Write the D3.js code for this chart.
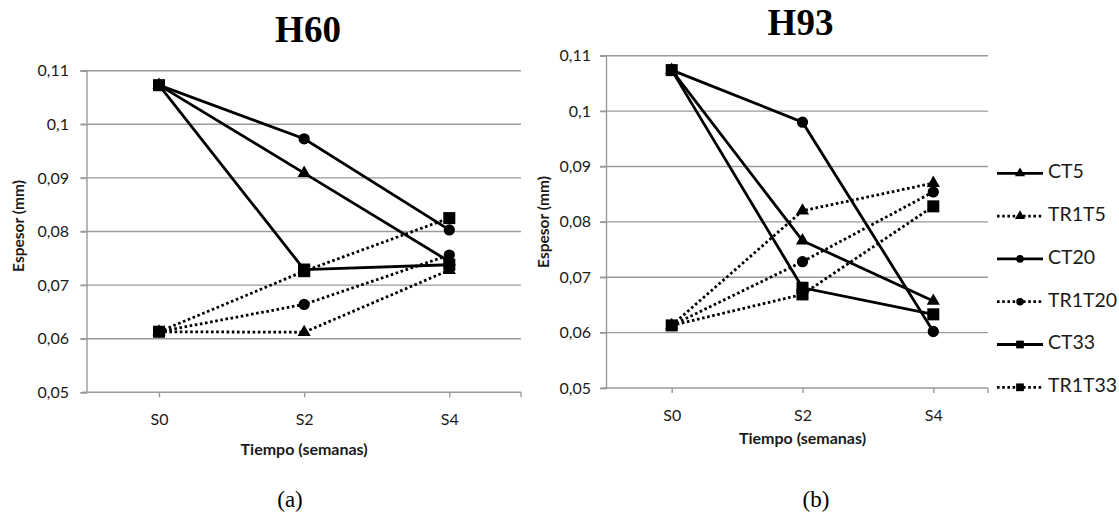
<!DOCTYPE html>
<html>
<head>
<meta charset="utf-8">
<script src="https://cdn.jsdelivr.net/npm/d3@7"></script>
<style>
  html, body { margin: 0; padding: 0; background: #fff; }
  svg { display: block; }
</style>
</head>
<body>
<svg id="chart" width="1119" height="512"></svg>
<script>
// ---------------- DATA ----------------
const categories = ["S0", "S2", "S4"];
const seriesNames = ["CT5", "TR1T5", "CT20", "TR1T20", "CT33", "TR1T33"];
const yTicks = [0.05, 0.06, 0.07, 0.08, 0.09, 0.10, 0.11];

const H60_CT5    = [0.1073, 0.0909, 0.0744];
const H60_TR1T5  = [0.0613, 0.0612, 0.0728];
const H60_CT20   = [0.1073, 0.0973, 0.0803];
const H60_TR1T20 = [0.0613, 0.0664, 0.0756];
const H60_CT33   = [0.1073, 0.0729, 0.0738];
const H60_TR1T33 = [0.0613, 0.0726, 0.0825];

const H93_CT5    = [0.1074, 0.0766, 0.0657];
const H93_TR1T5  = [0.0613, 0.0820, 0.0870];
const H93_CT20   = [0.1074, 0.0980, 0.0602];
const H93_TR1T20 = [0.0613, 0.0728, 0.0854];
const H93_CT33   = [0.1074, 0.0681, 0.0633];
const H93_TR1T33 = [0.0613, 0.0669, 0.0828];

const panels = [
  { title: "H60", label: "(a)", values: [H60_CT5, H60_TR1T5, H60_CT20, H60_TR1T20, H60_CT33, H60_TR1T33] },
  { title: "H93", label: "(b)", values: [H93_CT5, H93_TR1T5, H93_CT20, H93_TR1T20, H93_CT33, H93_TR1T33] }
];

// ---------------- STYLE / LAYOUT ----------------
const styles = {
  CT5:    { shape: d3.symbolTriangle, dotted: false },
  TR1T5:  { shape: d3.symbolTriangle, dotted: true },
  CT20:   { shape: d3.symbolCircle,   dotted: false },
  TR1T20: { shape: d3.symbolCircle,   dotted: true },
  CT33:   { shape: d3.symbolSquare,   dotted: false },
  TR1T33: { shape: d3.symbolSquare,   dotted: true }
};
const markerSize = { CT5: 75, TR1T5: 75, CT20: 100, TR1T20: 100, CT33: 145, TR1T33: 145 };
const legendMarkerSize = { CT5: 45, TR1T5: 45, CT20: 45, TR1T20: 45, CT33: 60, TR1T33: 60 };

const layouts = [
  { axisLeft: 86.5, axisRight: 521, pointRange: [159, 449.3], yRange: [392.3, 70.7],
    tickLabelX: 69, titleX: 308, titleY: 42, xTitleY: 451, catY: 421,
    yTitleX: 20, yTitleY: 226, subX: 290, subY: 507 },
  { axisLeft: 606, axisRight: 988, pointRange: [671.7, 933.3], yRange: [388, 55.7],
    tickLabelX: 591, titleX: 800.5, titleY: 35, xTitleY: 440, catY: 417,
    yTitleX: 545, yTitleY: 222, subX: 816, subY: 507 }
];

const locale = d3.formatLocale({ decimal: ",", thousands: ".", grouping: [3], currency: ["", "€"] });
const fmt = locale.format(".2~f");

const svg = d3.select("#chart");
const labelFont = "Lato, 'Open Sans', sans-serif";
const textColor = "#1a1a1a";
const gridColor = "#9a9a9a";

panels.forEach((panel, pi) => {
  const L = layouts[pi];
  const g = svg.append("g");

  const x = d3.scalePoint().domain(categories).range(L.pointRange);
  const y = d3.scaleLinear().domain([0.05, 0.11]).range(L.yRange);

  // gridlines
  g.append("g").selectAll("line").data(yTicks.slice(1)).join("line")
    .attr("x1", L.axisLeft - 6).attr("x2", L.axisRight)
    .attr("y1", d => y(d)).attr("y2", d => y(d))
    .attr("stroke", gridColor).attr("stroke-width", 1.4);

  // y axis
  const yAxis = d3.axisLeft(y).tickValues(yTicks).tickFormat(fmt).tickSize(6).tickPadding(12);
  const ya = g.append("g").attr("transform", `translate(${L.axisLeft},0)`).call(yAxis);
  ya.select(".domain").attr("stroke", gridColor).attr("stroke-width", 1.4);
  ya.selectAll(".tick line").attr("stroke", gridColor).attr("stroke-width", 1.4);
  ya.selectAll(".tick text").attr("font-family", labelFont).attr("font-size", 16)
    .attr("fill", textColor).attr("x", L.tickLabelX - L.axisLeft);

  // x axis
  const xAxis = d3.axisBottom(x).tickSize(5).tickPadding(14);
  const xa = g.append("g").attr("transform", `translate(0,${y(0.05)})`).call(xAxis);
  xa.select(".domain").remove();
  xa.append("line").attr("x1", L.axisLeft - 4).attr("x2", L.axisRight)
    .attr("stroke", gridColor).attr("stroke-width", 1.4);
  xa.append("line").attr("x1", L.axisRight).attr("x2", L.axisRight).attr("y1", 0).attr("y2", 5)
    .attr("stroke", gridColor).attr("stroke-width", 1.4);
  xa.selectAll(".tick line").attr("stroke", gridColor).attr("stroke-width", 1.4);
  xa.selectAll(".tick text").attr("font-family", labelFont).attr("font-size", 16)
    .attr("fill", textColor).attr("y", null).attr("dy", null)
    .attr("y", L.catY - y(0.05)).attr("dominant-baseline", "middle");

  // axis titles
  g.append("text").attr("x", (L.pointRange[0] + L.pointRange[1]) / 2).attr("y", L.xTitleY)
    .attr("text-anchor", "middle").attr("dominant-baseline", "middle")
    .attr("font-family", labelFont).attr("font-weight", "bold").attr("font-size", 16)
    .attr("fill", textColor).text("Tiempo (semanas)");
  g.append("text")
    .attr("transform", `translate(${L.yTitleX},${L.yTitleY}) rotate(-90)`)
    .attr("text-anchor", "middle").attr("dominant-baseline", "middle")
    .attr("font-family", labelFont).attr("font-weight", "bold").attr("font-size", 15.5)
    .attr("fill", textColor).text("Espesor (mm)");

  // chart title
  g.append("text").attr("x", L.titleX).attr("y", L.titleY).attr("text-anchor", "middle")
    .attr("font-family", "'Liberation Serif', 'Times New Roman', serif").attr("font-weight", "bold")
    .attr("font-size", 37).attr("fill", "#000").text(panel.title);

  // sub label
  g.append("text").attr("x", L.subX).attr("y", L.subY).attr("text-anchor", "middle")
    .attr("font-family", "'Liberation Serif', 'Times New Roman', serif")
    .attr("font-size", 23).attr("fill", "#000").text(panel.label);

  // series
  const line = d3.line().x((d, i) => x(categories[i])).y(d => y(d));
  seriesNames.forEach((name, si) => {
    const vals = panel.values[si];
    const st = styles[name];
    g.append("path").datum(vals).attr("d", line).attr("fill", "none")
      .attr("stroke", "#000").attr("stroke-width", 2.8)
      .attr("stroke-dasharray", st.dotted ? "2.6,2.6" : null);
    g.append("g").selectAll("path").data(vals).join("path")
      .attr("transform", (d, i) => `translate(${x(categories[i])},${y(d)})`)
      .attr("d", d3.symbol().type(st.shape).size(markerSize[name]))
      .attr("fill", "#000");
  });
});

// legend
const legendY = d3.scalePoint().domain(seriesNames).range([173.3, 387.3]);
const lg = svg.append("g");
seriesNames.forEach(name => {
  const st = styles[name];
  const yy = legendY(name);
  lg.append("line").attr("x1", 997).attr("x2", 1043).attr("y1", yy).attr("y2", yy)
    .attr("stroke", "#000").attr("stroke-width", 2.8)
    .attr("stroke-dasharray", st.dotted ? "2.6,2.6" : null);
  lg.append("path").attr("transform", `translate(1020,${yy})`)
    .attr("d", d3.symbol().type(st.shape).size(legendMarkerSize[name])).attr("fill", "#000");
  lg.append("text").attr("x", 1048).attr("y", yy).attr("dominant-baseline", "middle")
    .attr("font-family", labelFont).attr("font-size", 19.5).attr("fill", textColor).text(name);
});
</script>
</body>
</html>
